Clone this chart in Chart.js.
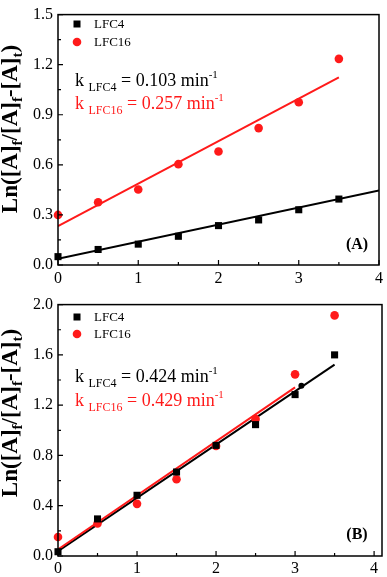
<!DOCTYPE html>
<html>
<head>
<meta charset="utf-8">
<script src="https://cdn.jsdelivr.net/npm/chart.js@4.4.1/dist/chart.umd.min.js"></script>
<style>
  html, body { margin: 0; padding: 0; background: #fff; }
  canvas { display: block; }
</style>
</head>
<body>
<canvas id="panelA" width="387" height="290"></canvas>
<canvas id="panelB" width="387" height="287"></canvas>
<script>
// tiempos (min)
const tiempos = [0, 0.5, 1, 1.5, 2, 2.5, 3, 3.5];

// panel (A)
const lfc4A = [0.05, 0.093, 0.125, 0.172, 0.236, 0.27, 0.331, 0.395];
const lfc16A = [0.30, 0.376, 0.452, 0.604, 0.68, 0.82, 0.975, 1.235];
const ajusteLfc4A = [[0, 0.037], [4, 0.447]];
const ajusteLfc16A = [[0, 0.233], [3.5, 1.124]];
const yTicksA = [0, 0.3, 0.6, 0.9, 1.2, 1.5];

// panel (B)
const lfc4B = [0.034, 0.295, 0.483, 0.668, 0.88, 1.045, 1.284, 1.60];
const lfc16B = [0.151, 0.258, 0.415, 0.61, 0.875, 1.09, 1.445, 1.914];
const ajusteLfc4B = [[0, 0.039], [3.5, 1.523]];
const ajusteLfc16B = [[0, 0.052], [3.0, 1.341]];
const puntoSueltoB = [[3.08, 1.354]];
const yTicksB = [0, 0.4, 0.8, 1.2, 1.6, 2.0];

const xTicks = [0, 1, 2, 3, 4];

const SERIF = '"Liberation Serif", "DejaVu Serif", serif';
const ROJO = '#ff1a1a';

function puntos(xs, ys) {
    return xs.map((x, i) => ({ x: x, y: ys[i] }));
}
function pares(arr) {
    return arr.map(p => ({ x: p[0], y: p[1] }));
}

// dibuja texto con segmentos (subindices / superindices)
function textoSegmentos(ctx, x, y, segs, color) {
    ctx.fillStyle = color;
    ctx.textBaseline = 'alphabetic';
    ctx.textAlign = 'left';
    let cx = x;
    segs.forEach(s => {
        ctx.font = (s.bold ? 'bold ' : '') + s.size + 'px ' + SERIF;
        ctx.fillText(s.t, cx, y + (s.dy || 0));
        cx += ctx.measureText(s.t).width;
    });
    return cx - x;
}

function crearPanel(id, cfg) {
    const marco = {
        id: 'marco',
        afterDraw(chart) {
            const ctx = chart.ctx;
            const a = chart.chartArea;
            const xs = chart.scales.x;
            const ys = chart.scales.y;
            ctx.save();
            ctx.strokeStyle = '#000';
            ctx.lineWidth = 1.5;
            ctx.strokeRect(a.left, a.top, a.right - a.left, a.bottom - a.top);

            // ticks hacia dentro
            ctx.lineWidth = 1.2;
            ctx.beginPath();
            cfg.yTicks.forEach((v, i) => {
                const py = ys.getPixelForValue(v);
                ctx.moveTo(a.left, py);
                ctx.lineTo(a.left + 5, py);
                if (i < cfg.yTicks.length - 1) {
                    const pm = ys.getPixelForValue((v + cfg.yTicks[i + 1]) / 2);
                    ctx.moveTo(a.left, pm);
                    ctx.lineTo(a.left + 3, pm);
                }
            });
            xTicks.forEach((v, i) => {
                const px = xs.getPixelForValue(v);
                ctx.moveTo(px, a.bottom);
                ctx.lineTo(px, a.bottom - 5);
                if (i < xTicks.length - 1) {
                    const pm = xs.getPixelForValue(v + 0.5);
                    ctx.moveTo(pm, a.bottom);
                    ctx.lineTo(pm, a.bottom - 3);
                }
            });
            ctx.stroke();

            // titulo eje y
            ctx.save();
            ctx.translate(17, cfg.tituloY);
            ctx.rotate(-Math.PI / 2);
            const segsT = [
                { t: 'Ln([A]', size: 23, bold: true },
                { t: 'f', size: 15, bold: true, dy: 5 },
                { t: '/[A]', size: 23, bold: true },
                { t: 'f', size: 15, bold: true, dy: 5 },
                { t: '-[A]', size: 23, bold: true },
                { t: 't', size: 15, bold: true, dy: 5 },
                { t: ')', size: 23, bold: true }
            ];
            let ancho = 0;
            segsT.forEach(s => {
                ctx.font = 'bold ' + s.size + 'px ' + SERIF;
                ancho += ctx.measureText(s.t).width;
            });
            textoSegmentos(ctx, -ancho / 2, 0, segsT, '#000');
            ctx.restore();

            // leyenda
            ctx.font = '13px ' + SERIF;
            ctx.textBaseline = 'middle';
            ctx.fillStyle = '#000';
            ctx.fillRect(77 - 3.5, cfg.leyendaY[0] - 3.5, 7, 7);
            ctx.fillText('LFC4', 94, cfg.leyendaY[0] + 1);
            ctx.fillStyle = ROJO;
            ctx.beginPath();
            ctx.arc(77, cfg.leyendaY[1], 4.3, 0, Math.PI * 2);
            ctx.fill();
            ctx.fillStyle = '#000';
            ctx.fillText('LFC16', 94, cfg.leyendaY[1] + 1);

            // constantes k
            textoSegmentos(ctx, 75, cfg.kY[0], [
                { t: 'k ', size: 18 },
                { t: 'LFC4', size: 12, dy: 5 },
                { t: ' = ' + cfg.k[0] + ' min', size: 18 },
                { t: '-1', size: 11, dy: -8 }
            ], '#000');
            textoSegmentos(ctx, 75, cfg.kY[1], [
                { t: 'k ', size: 18 },
                { t: 'LFC16', size: 12, dy: 5 },
                { t: ' = ' + cfg.k[1] + ' min', size: 18 },
                { t: '-1', size: 11, dy: -8 }
            ], ROJO);

            // etiqueta del panel
            ctx.font = 'bold 16px ' + SERIF;
            ctx.fillStyle = '#000';
            ctx.textAlign = 'center';
            ctx.textBaseline = 'middle';
            ctx.fillText(cfg.etiqueta, 357, cfg.etiquetaY);
            ctx.restore();
        }
    };

    const datasets = [];
    if (cfg.suelto) {
        datasets.push({
            data: pares(cfg.suelto), showLine: false, clip: false,
            pointStyle: 'circle', pointRadius: 3,
            backgroundColor: '#000', borderColor: '#000', borderWidth: 0
        });
    }
    datasets.push({
        label: 'LFC4', data: puntos(tiempos, cfg.lfc4), showLine: false, clip: false,
        pointStyle: 'rect', pointRadius: 5,
        backgroundColor: '#000', borderColor: '#000', borderWidth: 0
    });
    datasets.push({
        label: 'LFC16', data: puntos(tiempos, cfg.lfc16), showLine: false, clip: false,
        pointStyle: 'circle', pointRadius: 4.3,
        backgroundColor: ROJO, borderColor: ROJO, borderWidth: 0
    });
    datasets.push({
        data: pares(cfg.ajuste16), showLine: true, pointRadius: 0,
        borderColor: ROJO, borderWidth: 2
    });
    datasets.push({
        data: pares(cfg.ajuste4), showLine: true, pointRadius: 0,
        borderColor: '#000', borderWidth: 2
    });

    return new Chart(document.getElementById(id), {
        type: 'scatter',
        data: { datasets: datasets },
        options: {
            responsive: false,
            animation: false,
            events: [],
            layout: { padding: cfg.padding },
            plugins: { legend: { display: false }, tooltip: { enabled: false } },
            scales: {
                x: {
                    type: 'linear', min: 0, max: cfg.xMax,
                    grid: { display: false, drawTicks: false },
                    border: { display: false },
                    afterBuildTicks: s => { s.ticks = xTicks.map(v => ({ value: v })); },
                    afterFit: s => { s.height = cfg.xAltura; },
                    ticks: {
                        color: '#000', padding: cfg.xPad, maxRotation: 0,
                        font: { family: SERIF, size: 16 },
                        callback: v => String(v)
                    }
                },
                y: {
                    type: 'linear', min: 0, max: cfg.yTicks[cfg.yTicks.length - 1],
                    grid: { display: false, drawTicks: false },
                    border: { display: false },
                    afterBuildTicks: s => { s.ticks = cfg.yTicks.map(v => ({ value: v })); },
                    afterFit: s => { s.width = 58; },
                    ticks: {
                        color: '#000', padding: 5,
                        font: { family: SERIF, size: 16 },
                        callback: v => Number(v).toFixed(1)
                    }
                }
            }
        },
        plugins: [marco]
    });
}

crearPanel('panelA', {
    lfc4: lfc4A, lfc16: lfc16A, ajuste4: ajusteLfc4A, ajuste16: ajusteLfc16A,
    yTicks: yTicksA, xMax: 4, xAltura: 25, xPad: 4,
    padding: { top: 7, right: 6, left: 0, bottom: 0 },
    tituloY: 129, leyendaY: [24, 42], kY: [86, 109], k: ['0.103', '0.257'],
    etiqueta: '(A)', etiquetaY: 245
});

crearPanel('panelB', {
    lfc4: lfc4B, lfc16: lfc16B, ajuste4: ajusteLfc4B, ajuste16: ajusteLfc16B,
    suelto: puntoSueltoB,
    yTicks: yTicksB, xMax: 4.1, xAltura: 21, xPad: 3,
    padding: { top: 10, right: 5, left: 0, bottom: 0 },
    tituloY: 123, leyendaY: [27, 44], kY: [92, 116], k: ['0.424', '0.429'],
    etiqueta: '(B)', etiquetaY: 245
});
</script>
</body>
</html>
